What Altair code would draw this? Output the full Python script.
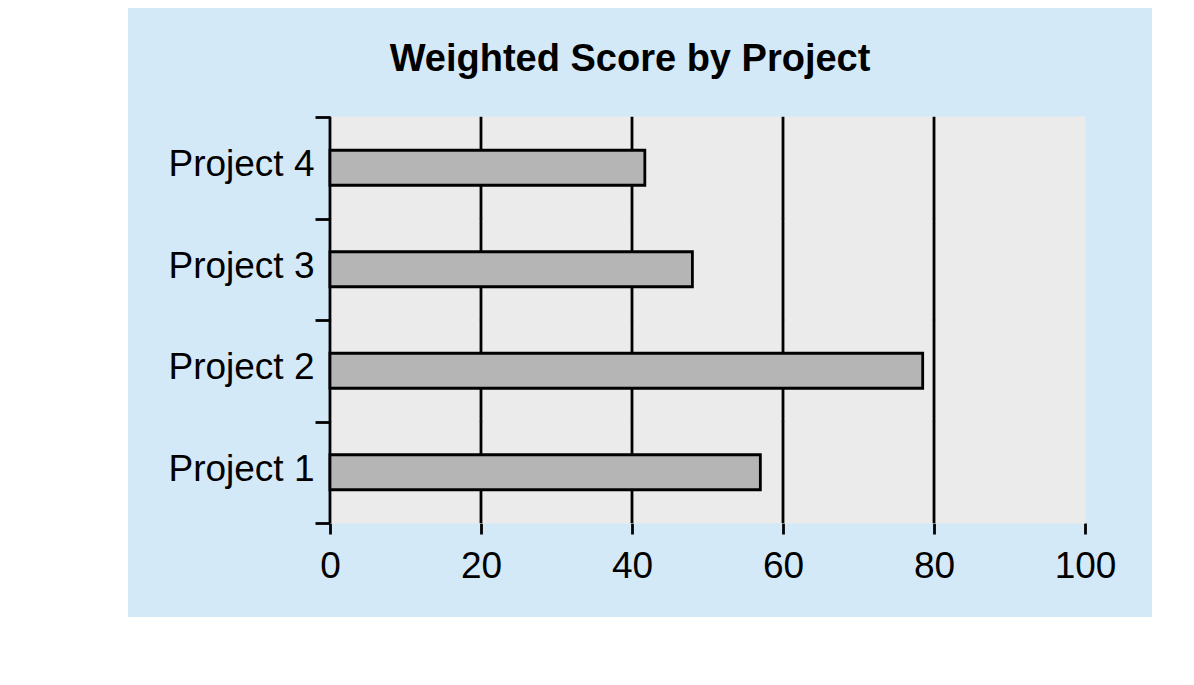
import altair as alt
import pandas as pd

# ---- data ----
projects = ["Project 1", "Project 2", "Project 3", "Project 4"]
scores = [57, 78.5, 48, 41.7]
x_ticks = [0, 20, 40, 60, 80, 100]
grid_values = [0, 20, 40, 60, 80]          # black vertical lines (axis line + grid)
title_text = "Weighted Score by Project"

order_top_down = list(reversed(projects))

bars_df = pd.DataFrame({"project": projects, "score": scores})
panel_df = pd.DataFrame({"project": projects})
grid_df = pd.DataFrame(
    [{"project": p, "g": g} for p in projects for g in grid_values]
)

FONT = "Liberation Sans"

y_scale = alt.Scale(paddingInner=0, paddingOuter=1, align=0.537)
x_scale = alt.Scale(domain=[-26.75, 108.87], nice=False, zero=False)

y_axis = alt.Axis(
    title=None,
    domain=False,
    grid=False,
    tickBand="extent",
    ticks=True,
    tickSize=15,
    tickWidth=2.8,
    tickColor="black",
    offset=-202,
    labelFontSize=37,
    labelFont=FONT,
    labelColor="black",
    labelPadding=1,
    labelLimit=400,
    labelOffset=-3,
)

x_axis = alt.Axis(
    title=None,
    values=x_ticks,
    domain=False,
    grid=False,
    ticks=True,
    tickSize=11,
    tickWidth=2.8,
    tickColor="black",
    offset=-94,
    labelFontSize=37,
    labelFont=FONT,
    labelColor="black",
    labelPadding=14,
    labelFlush=False,
    labelOverlap=False,
)

def y_enc():
    return alt.Y("project:N", sort=order_top_down, scale=y_scale, axis=y_axis, title=None)

panel = alt.Chart(panel_df).mark_rect(
    fill="#EBEBEB", stroke="#EBEBEB", strokeWidth=1
).encode(
    y=y_enc(),
    x=alt.datum(x_ticks[0], type="quantitative", scale=x_scale, axis=x_axis, title=None),
    x2=alt.datum(x_ticks[-1]),
)

grid = alt.Chart(grid_df).mark_tick(
    orient="vertical", size=102, thickness=2.8, color="black", opacity=1
).encode(
    y=y_enc(),
    x=alt.X("g:Q", scale=x_scale, axis=x_axis, title=None),
)

bars = alt.Chart(bars_df).mark_bar(
    fill="#B5B5B5", stroke="black", strokeWidth=2.8, height={"band": 0.345}
).encode(
    y=y_enc(),
    x=alt.X("score:Q", scale=x_scale, axis=x_axis, title=None),
)

chart = alt.layer(panel, grid, bars).properties(
    width=1024,
    height=609,
    padding={"left": 120, "top": 0, "right": 0, "bottom": 0},
    autosize=alt.AutoSizeParams(type="none"),
    title=alt.TitleParams(
        title_text,
        fontSize=38,
        font=FONT,
        fontWeight="bold",
        color="black",
        anchor="middle",
        frame="group",
        offset=-90,
        dx=-10,
    ),
).configure(background="white").configure_view(fill="#D4E9F7", stroke=None)

chart.save("out.html", embed_options={"renderer": "svg", "actions": False})
